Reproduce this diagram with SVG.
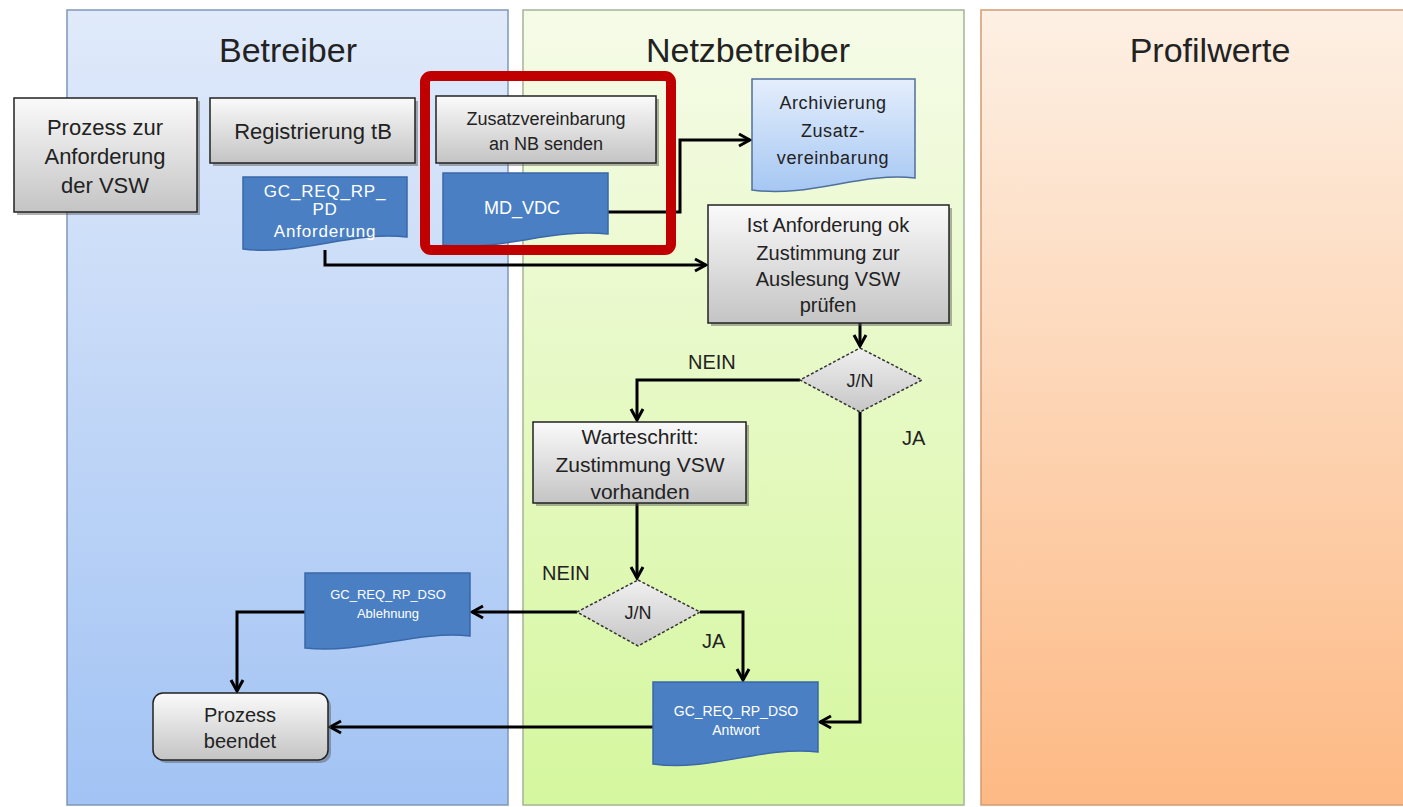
<svg xmlns="http://www.w3.org/2000/svg" width="1403" height="807" viewBox="0 0 1403 807">
<defs>
<linearGradient id="gBlue" x1="0" y1="0" x2="0" y2="1"><stop offset="0" stop-color="#e0eafa"/><stop offset="1" stop-color="#a2c3f4"/></linearGradient>
<linearGradient id="gGreen" x1="0" y1="0" x2="0" y2="1"><stop offset="0" stop-color="#f6fbe8"/><stop offset="1" stop-color="#d5f79e"/></linearGradient>
<linearGradient id="gOrange" x1="0" y1="0" x2="0" y2="1"><stop offset="0" stop-color="#fdf0e4"/><stop offset="1" stop-color="#fdb984"/></linearGradient>
<linearGradient id="gGray" x1="0" y1="0" x2="0" y2="1"><stop offset="0" stop-color="#fafafa"/><stop offset="1" stop-color="#c4c4c4"/></linearGradient>
<linearGradient id="gLightBlue" x1="0" y1="0" x2="0" y2="1"><stop offset="0" stop-color="#e4eefc"/><stop offset="1" stop-color="#a6c7f3"/></linearGradient>
<linearGradient id="gDia" x1="0" y1="0" x2="0" y2="1"><stop offset="0" stop-color="#f0f0f0"/><stop offset="1" stop-color="#c6c6c6"/></linearGradient>
<marker id="arr" markerUnits="userSpaceOnUse" markerWidth="16" markerHeight="16" viewBox="0 0 16 16" refX="14" refY="8" orient="auto">
<path d="M3,2 L14,8 L3,14" fill="none" stroke="#000" stroke-width="3"/>
</marker>
</defs>
<style>
.lane{stroke-width:1.5}
.hdr{font-family:"Liberation Sans",Arial,sans-serif;font-size:34px;fill:#222;text-anchor:middle}
.box{fill:url(#gGray);stroke:#222;stroke-width:1.5}
.shadow{fill:#555;opacity:0.45}
.t{font-family:"Liberation Sans",Arial,sans-serif;fill:#222;text-anchor:middle}
.dt{font-family:"Liberation Sans",Arial,sans-serif;fill:#ffffff;text-anchor:middle}
.doc{fill:#4a7fc4;stroke:#3a68a8;stroke-width:1.5}
.ldoc{fill:url(#gLightBlue);stroke:#4f6f9c;stroke-width:1.5}
.dia{fill:url(#gDia);stroke:#333;stroke-width:1.5;stroke-dasharray:3 2}
.conn{fill:none;stroke:#000;stroke-width:3;marker-end:url(#arr)}
.lbl{font-family:"Liberation Sans",Arial,sans-serif;font-size:20px;fill:#222}
</style>
<rect width="1403" height="807" fill="#ffffff"/>
<g id="lanes">
<rect class="lane" x="67" y="10" width="441" height="795" fill="url(#gBlue)" stroke="#8096b8"/>
<rect class="lane" x="523" y="10" width="441" height="795" fill="url(#gGreen)" stroke="#a4b494"/>
<rect class="lane" x="981" y="10" width="430" height="795" fill="url(#gOrange)" stroke="#d49a70"/>
<text class="hdr" x="288" y="62">Betreiber</text>
<text class="hdr" x="748" y="62">Netzbetreiber</text>
<text class="hdr" x="1210" y="62">Profilwerte</text>
</g>
<g id="connectors">
<path class="conn" d="M325,250 V265 H706"/>
<path class="conn" d="M608,212 H680 V140 H750"/>
<path class="conn" d="M860,323 V346"/>
<path class="conn" d="M800,380 H637 V420"/>
<path class="conn" d="M860,412 V722 H820"/>
<path class="conn" d="M637,503 V578"/>
<path class="conn" d="M577,612 H472"/>
<path class="conn" d="M305,612 H237 V691"/>
<path class="conn" d="M700,612 H743 V680"/>
<path class="conn" d="M653,727 H330"/>
</g>
<g id="n-prozess-anforderung">
<rect class="shadow" x="17" y="101" width="183" height="114"/>
<rect class="box" x="14" y="98" width="183" height="114"/>
<text class="t" font-size="22" x="105" y="135">Prozess zur</text>
<text class="t" font-size="22" x="105" y="164">Anforderung</text>
<text class="t" font-size="22" x="105" y="193">der VSW</text>
</g>
<g id="n-registrierung">
<rect class="shadow" x="213" y="101" width="205" height="65"/>
<rect class="box" x="210" y="98" width="205" height="65"/>
<text class="t" font-size="22" x="313" y="139">Registrierung tB</text>
</g>
<g id="n-pd-anforderung">
<path class="doc" d="M243,177 H407 V237 C350,231 300,256 243,249 Z"/>
<text class="dt" font-size="17" letter-spacing="0.8" x="325" y="197">GC_REQ_RP_</text>
<text class="dt" font-size="17" letter-spacing="0.8" x="325" y="215">PD</text>
<text class="dt" font-size="17" letter-spacing="0.8" x="325" y="237">Anforderung</text>
</g>
<g id="n-zusatz-senden">
<rect class="shadow" x="439" y="99" width="220" height="67"/>
<rect class="box" x="436" y="96" width="220" height="67"/>
<text class="t" font-size="18" x="546" y="125">Zusatzvereinbarung</text>
<text class="t" font-size="18" x="546" y="150">an NB senden</text>
</g>
<g id="n-md-vdc">
<path class="doc" d="M443,173 H608 V234 C550,228 500,252 443,245 Z"/>
<text class="dt" font-size="18" x="522" y="214">MD_VDC</text>
</g>
<g id="highlight">
<rect x="425" y="76" width="246" height="174" rx="6" fill="none" stroke="#c00000" stroke-width="10"/>
</g>
<g id="n-archivierung">
<path class="ldoc" d="M752,79 H915 V178 C860,172 810,198 752,190 Z"/>
<text class="t" font-size="18" letter-spacing="0.6" x="833" y="109">Archivierung</text>
<text class="t" font-size="18" letter-spacing="0.6" x="833" y="137">Zusatz-</text>
<text class="t" font-size="18" letter-spacing="0.6" x="833" y="164">vereinbarung</text>
</g>
<g id="n-pruefen">
<rect class="shadow" x="711" y="208" width="241" height="118"/>
<rect class="box" x="708" y="205" width="241" height="118"/>
<text class="t" font-size="20" x="828" y="232">Ist Anforderung ok</text>
<text class="t" font-size="20" x="828" y="260">Zustimmung  zur</text>
<text class="t" font-size="20" x="828" y="286">Auslesung  VSW</text>
<text class="t" font-size="20" x="828" y="312">prüfen</text>
</g>
<g id="n-dia1">
<polygon class="dia" points="860,348 922,380 860,412 800,380"/>
<text class="t" font-size="18" x="860" y="387">J/N</text>
</g>
<g id="n-warteschritt">
<rect class="shadow" x="536" y="425" width="213" height="81"/>
<rect class="box" x="533" y="422" width="213" height="81"/>
<text class="t" font-size="21" x="640" y="444">Warteschritt:</text>
<text class="t" font-size="21" x="640" y="472">Zustimmung  VSW</text>
<text class="t" font-size="21" x="640" y="499">vorhanden</text>
</g>
<g id="n-dia2">
<polygon class="dia" points="638,580 700,612 638,646 577,612"/>
<text class="t" font-size="18" x="638" y="619">J/N</text>
</g>
<g id="n-ablehnung">
<path class="doc" d="M305,573 H470 V636 C415,630 365,654 305,648 Z"/>
<text class="dt" font-size="13" x="388" y="599">GC_REQ_RP_DSO</text>
<text class="dt" font-size="13" x="388" y="618">Ablehnung</text>
</g>
<g id="n-antwort">
<path class="doc" d="M653,682 H818 V752 C760,746 710,772 653,764 Z"/>
<text class="dt" font-size="14" x="736" y="716">GC_REQ_RP_DSO</text>
<text class="dt" font-size="14" x="736" y="735">Antwort</text>
</g>
<g id="n-beendet">
<rect class="shadow" x="156" y="696" width="175" height="67" rx="10"/>
<rect class="box" x="153" y="693" width="175" height="67" rx="10"/>
<text class="t" font-size="20" x="240" y="722">Prozess</text>
<text class="t" font-size="20" x="240" y="748">beendet</text>
</g>
<g id="labels">
<text class="lbl" x="688" y="369">NEIN</text>
<text class="lbl" x="902" y="445">JA</text>
<text class="lbl" x="542" y="580">NEIN</text>
<text class="lbl" x="702" y="648">JA</text>
</g>
</svg>
